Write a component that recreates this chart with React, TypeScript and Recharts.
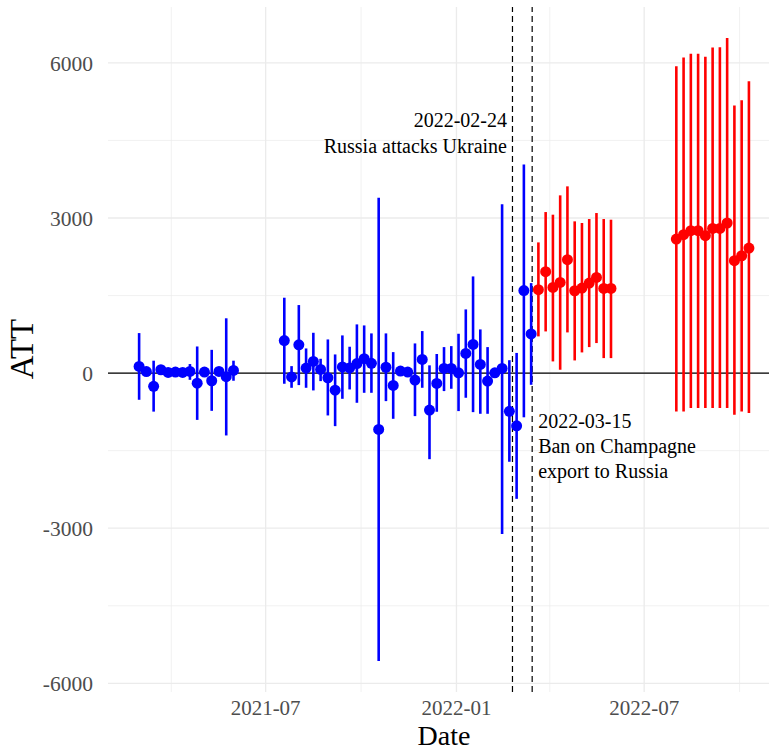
import {
  ComposedChart,
  Scatter,
  ErrorBar,
  XAxis,
  YAxis,
  ReferenceLine,
} from "recharts";

// weekly estimates before the ban (blue)
const blueDates = [
  "2021-03-01", "2021-03-08", "2021-03-15", "2021-03-22", "2021-03-29", "2021-04-05", "2021-04-12",
  "2021-04-19", "2021-04-26", "2021-05-03", "2021-05-10", "2021-05-17", "2021-05-24", "2021-05-31",
  "2021-07-19", "2021-07-26", "2021-08-02", "2021-08-09", "2021-08-16", "2021-08-23", "2021-08-30",
  "2021-09-06", "2021-09-13", "2021-09-20", "2021-09-27", "2021-10-04", "2021-10-11", "2021-10-18",
  "2021-10-25", "2021-11-01", "2021-11-08", "2021-11-15", "2021-11-22", "2021-11-29", "2021-12-06",
  "2021-12-13", "2021-12-20", "2021-12-27", "2022-01-03", "2022-01-10", "2022-01-17", "2022-01-24",
  "2022-01-31", "2022-02-07", "2022-02-14", "2022-02-21", "2022-02-28", "2022-03-07", "2022-03-14",
];
const blueEstimate = [
  130, 30, -255, 65, 13, 19, 13, 32, -195, 19, -148, 32, -70, 52,
  630, -75, 548, 97, 226, 71, -90, -330, 120, 100, 185, 280, 190, -1090,
  113, -239, 40, 19, -135, 264, -715, -200, 90, 90, 6, 381, 555, 168,
  -155, 6, 90, -740, -1020, 1596, 758,
];
const blueLower = [
  -516, -40, -745, 0, -40, -30, -40, -130, -905, -40, -730, -40, -1206, -148,
  -206, -284, -232, -284, -335, -155, -819, -1026, -497, -316, -574, -381, -381, -5566,
  -542, -884, -45, -30, -832, -284, -1665, -748, -348, -303, -735, -477, -755, -787,
  -787, -40, -3110, -1715, -2432, -855, -226,
];
const blueUpper = [
  774, 100, 240, 140, 60, 70, 60, 175, 515, 80, 450, 100, 1060, 240,
  1458, 135, 1316, 477, 780, 277, 651, 361, 729, 510, 942, 922, 768, 3392,
  768, 406, 135, 90, 574, 813, 150, 370, 503, 522, 761, 1232, 1870, 845,
  503, 60, 3265, 250, 390, 4035, 1741,
];

// weekly estimates after the ban (red)
const redDates = [
  "2022-03-21", "2022-03-28", "2022-04-04", "2022-04-11", "2022-04-18", "2022-04-25", "2022-05-02",
  "2022-05-09", "2022-05-16", "2022-05-23", "2022-05-30",
  "2022-08-01", "2022-08-08", "2022-08-15", "2022-08-22", "2022-08-29", "2022-09-05", "2022-09-12",
  "2022-09-19", "2022-09-26", "2022-10-03", "2022-10-10",
];
const redEstimate = [
  1613, 1961, 1658, 1754, 2193, 1593, 1645, 1742, 1851, 1638, 1638,
  2593, 2677, 2754, 2754, 2657, 2799, 2799, 2903, 2174, 2270, 2419,
];
const redLower = [
  710, 806, 226, 65, 787, 245, 400, 503, 581, 290, 290,
  -742, -742, -677, -677, -677, -677, -677, -677, -806, -742, -774,
];
const redUpper = [
  2528, 3115, 3064, 3438, 3612, 2935, 2903, 2980, 3096, 2980, 2967,
  5935, 6104, 6176, 6176, 6117, 6298, 6304, 6479, 5178, 5275, 5644,
];

const yTicks = [-6000, -3000, 0, 3000, 6000];
const yMinor = [-4500, -1500, 1500, 4500];
const xTicks = ["2021-07-01", "2022-01-01", "2022-07-01"];
const xMinor = ["2021-04-01", "2021-10-01", "2022-04-01", "2022-10-01"];

const eventDates = ["2022-02-24", "2022-03-15"];
const eventLabels = [
  ["2022-02-24", "Russia attacks Ukraine"],
  ["2022-03-15", "Ban on Champagne", "export to Russia"],
];

const FONT = '"Liberation Serif", "Times New Roman", serif';
const GRID = "#ebebeb";

const ts = (d: string) => Date.parse(d + "T00:00:00Z");

const toRows = (dates: string[], est: number[], lo: number[], hi: number[]) =>
  dates.map((d, i) => ({ x: ts(d), y: est[i], err: [est[i] - lo[i], hi[i] - est[i]] }));

const blueRows = toRows(blueDates, blueEstimate, blueLower, blueUpper);
const redRows = toRows(redDates, redEstimate, redLower, redUpper);

const fmtMonth = (v: number) => {
  const d = new Date(v);
  return `${d.getUTCFullYear()}-${String(d.getUTCMonth() + 1).padStart(2, "0")}`;
};

const dot = (color: string) => (props: any) =>
  <circle cx={props.cx} cy={props.cy} r={5.5} fill={color} />;

const eventLabel = (idx: number) => (props: any) => {
  const x = props.viewBox.x;
  const lines = eventLabels[idx];
  if (idx === 0) {
    return (
      <text x={x - 5.5} textAnchor="end" fontFamily={FONT} fontSize={20} fill="#000">
        {lines.map((t, i) => (
          <tspan key={i} x={x - 5.5} y={127 + i * 26}>{t}</tspan>
        ))}
      </text>
    );
  }
  return (
    <text x={x + 6} textAnchor="start" fontFamily={FONT} fontSize={20} fill="#000">
      {lines.map((t, i) => (
        <tspan key={i} x={x + 6} y={428 + i * 25}>{t}</tspan>
      ))}
    </text>
  );
};

export default function App() {
  return (
    <div style={{ position: "absolute", left: 0, top: 0, width: 769, height: 751, overflow: "hidden", background: "#fff" }}>
      <ComposedChart
        width={790}
        height={751}
        margin={{ top: 7, right: 11, bottom: 0, left: 0 }}
      >
        {/* minor then major grid, theme_minimal style */}
        {xMinor.map((d) => (
          <ReferenceLine key={d} x={ts(d)} stroke={GRID} strokeWidth={0.7} />
        ))}
        {yMinor.map((v) => (
          <ReferenceLine key={v} y={v} stroke={GRID} strokeWidth={0.7} />
        ))}
        {xTicks.map((d) => (
          <ReferenceLine key={d} x={ts(d)} stroke={GRID} strokeWidth={1.3} />
        ))}
        {yTicks.map((v) => (
          <ReferenceLine key={`g${v}`} y={v} stroke={GRID} strokeWidth={1.3} />
        ))}
        <XAxis
          type="number"
          dataKey="x"
          domain={[ts("2021-01-30"), ts("2022-11-08")]}
          allowDataOverflow
          ticks={xTicks.map(ts)}
          tickFormatter={fmtMonth}
          tick={{ fill: "#4d4d4d", fontSize: 21, fontFamily: FONT }}
          tickLine={false}
          axisLine={false}
          tickSize={4}
          tickMargin={4}
          height={59}
          label={() => (
            <text x={444} y={745} textAnchor="middle" fontFamily={FONT} fontSize={28} fill="#000">
              Date
            </text>
          )}
        />
        <YAxis
          type="number"
          domain={[-6168, 7081]}
          allowDataOverflow
          ticks={yTicks}
          tick={{ fill: "#4d4d4d", fontSize: 21.5, fontFamily: FONT }}
          tickLine={false}
          axisLine={false}
          tickSize={7}
          tickMargin={8}
          width={108}
          label={() => (
            <text x={33} y={349} transform="rotate(-90 33 349)" textAnchor="middle" fontFamily={FONT} fontSize={33} fill="#000">
              ATT
            </text>
          )}
        />
        <ReferenceLine y={0} stroke="#000" strokeWidth={1.1} />
        {eventDates.map((d, i) => (
          <ReferenceLine
            key={d}
            x={ts(d)}
            stroke="#000"
            strokeWidth={1.2}
            strokeDasharray="6 4"
            label={eventLabel(i)}
          />
        ))}
        <Scatter data={blueRows} dataKey="y" isAnimationActive={false} shape={dot("#0000ff")}>
          <ErrorBar dataKey="err" direction="y" width={0} stroke="#0000ff" strokeWidth={2.6} isAnimationActive={false} />
        </Scatter>
        <Scatter data={redRows} dataKey="y" isAnimationActive={false} shape={dot("#ff0000")}>
          <ErrorBar dataKey="err" direction="y" width={0} stroke="#ff0000" strokeWidth={2.6} isAnimationActive={false} />
        </Scatter>
      </ComposedChart>
    </div>
  );
}
